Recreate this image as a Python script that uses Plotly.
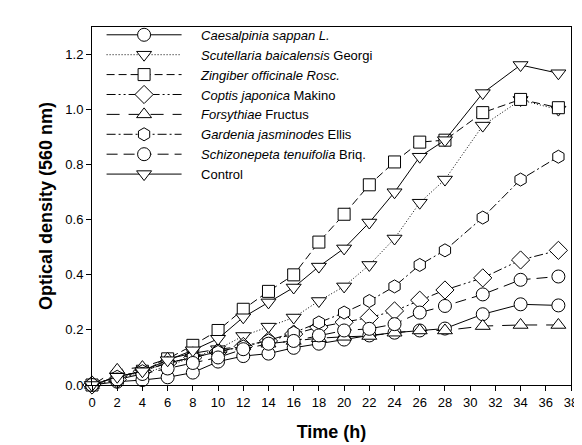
import plotly.graph_objects as go

time_h = [0, 2, 4, 6, 8, 10, 12, 14, 16, 18, 20, 22, 24, 26, 28, 31, 34, 37]

caesalpinia = [0, 0.012, 0.018, 0.028, 0.045, 0.085, 0.105, 0.114, 0.135, 0.15, 0.165, 0.18, 0.19, 0.198, 0.205, 0.257, 0.293, 0.289]
scutellaria = [0, 0.03, 0.04, 0.07, 0.10, 0.13, 0.178, 0.212, 0.245, 0.305, 0.358, 0.436, 0.532, 0.662, 0.746, 0.942, 1.035, 1.0]
zingiber = [0, 0.03, 0.05, 0.095, 0.144, 0.198, 0.275, 0.34, 0.40, 0.519, 0.62, 0.727, 0.81, 0.882, 0.889, 0.989, 1.037, 1.007]
coptis = [0, 0.02, 0.05, 0.08, 0.10, 0.12, 0.14, 0.16, 0.185, 0.21, 0.228, 0.245, 0.269, 0.308, 0.345, 0.389, 0.454, 0.489]
forsythiae = [0, 0.055, 0.065, 0.095, 0.115, 0.13, 0.14, 0.15, 0.16, 0.17, 0.175, 0.178, 0.19, 0.198, 0.198, 0.214, 0.218, 0.218]
gardenia = [0, 0.03, 0.05, 0.08, 0.10, 0.12, 0.14, 0.162, 0.19, 0.227, 0.263, 0.305, 0.358, 0.436, 0.489, 0.608, 0.746, 0.829]
schizonepeta = [0, 0.02, 0.04, 0.06, 0.08, 0.10, 0.13, 0.15, 0.16, 0.18, 0.198, 0.204, 0.221, 0.263, 0.287, 0.329, 0.382, 0.394]
control = [0, 0.03, 0.05, 0.09, 0.126, 0.168, 0.246, 0.30, 0.354, 0.43, 0.496, 0.59, 0.70, 0.829, 0.889, 1.06, 1.162, 1.132]

names = [
    "<i>Caesalpinia sappan L.</i>",
    "<i>Scutellaria baicalensis</i> Georgi",
    "<i>Zingiber officinale Rosc.</i>",
    "<i>Coptis japonica</i> Makino",
    "<i>Forsythiae</i> Fructus",
    "<i>Gardenia jasminodes</i> Ellis",
    "<i>Schizonepeta tenuifolia</i> Briq.",
    "Control",
]
series = [caesalpinia, scutellaria, zingiber, coptis, forsythiae, gardenia, schizonepeta, control]
symbols = ["circle", "triangle-down", "square", "diamond", "triangle-up", "hexagon", "circle", "triangle-down"]
sizes = [13, 13, 12, 14, 13, 13, 13, 13]
dashes = ["solid", "1px,2px", "8px,4px", "9px,3px,2px,3px,2px,3px", "13px,9px", "9px,3px,2px,3px", "11px,6px", "solid"]

pad = "&nbsp;" * 4

fig = go.Figure()
for nm, ys, sym, sz, dsh in zip(names, series, symbols, sizes, dashes):
    fig.add_trace(go.Scatter(
        x=time_h, y=ys, name=pad + nm, mode="lines+markers",
        line=dict(color="black", width=1, dash=dsh),
        marker=dict(symbol=sym, size=sz, color="white", line=dict(color="black", width=1)),
        cliponaxis=False,
    ))

font_family = "Liberation Sans, Arial, sans-serif"
fig.update_layout(
    width=582, height=445,
    margin=dict(l=84, r=15, t=13, b=68),
    plot_bgcolor="white", paper_bgcolor="white",
    font=dict(family=font_family, size=13, color="black"),
    showlegend=True,
    legend=dict(x=0.02, y=1.02, xanchor="left", yanchor="top",
                bgcolor="rgba(0,0,0,0)", borderwidth=0,
                font=dict(size=13), itemwidth=75, tracegroupgap=0),
    xaxis=dict(range=[0, 38], tickmode="linear", tick0=0, dtick=2,
               showline=True, linecolor="black", linewidth=1, mirror=True,
               ticks="outside", ticklen=5, tickcolor="black", showgrid=False, zeroline=False,
               title=dict(text="<b>Time (h)</b>", font=dict(size=18), standoff=16)),
    yaxis=dict(range=[0, 1.3], tickmode="array", tickvals=[0, 0.2, 0.4, 0.6, 0.8, 1.0, 1.2],
               tickformat=".1f",
               showline=True, linecolor="black", linewidth=1, mirror=True,
               ticks="outside", ticklen=5, tickcolor="black", showgrid=False, zeroline=False,
               title=dict(text="<b>Optical density (560 nm)</b>", font=dict(size=18), standoff=8)),
)

fig.write_html("out.html")
